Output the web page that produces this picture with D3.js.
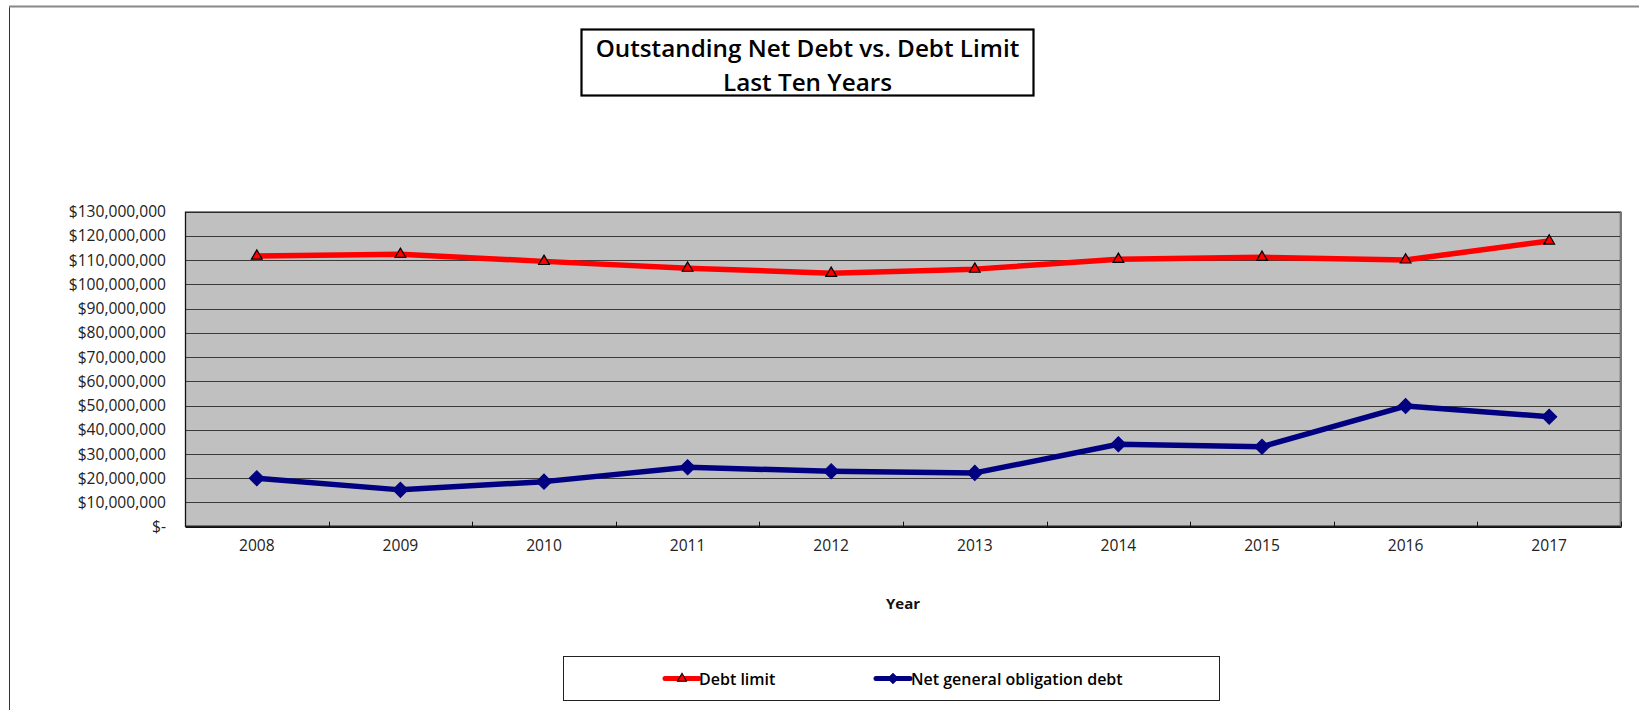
<!DOCTYPE html>
<html>
<head>
<meta charset="utf-8">
<script src="https://cdn.jsdelivr.net/npm/d3@7"></script>
<style>
  html, body { margin: 0; padding: 0; background: #fff; }
  svg { display: block; }
</style>
</head>
<body>
<svg id="chart" width="1639" height="710"></svg>
<script>
// Fiscal years on the horizontal axis
const years = ["2008", "2009", "2010", "2011", "2012", "2013", "2014", "2015", "2016", "2017"];
// Legal debt limit per year (dollars)
const debtLimit = [111700000, 112400000, 109500000, 106700000, 104600000, 106300000, 110400000, 111200000, 110100000, 117900000];
// Net general obligation debt per year (dollars)
const netDebt = [20000000, 15200000, 18600000, 24500000, 22900000, 22200000, 34000000, 33000000, 49800000, 45400000];
// Value axis ticks
const yTicks = [0, 10000000, 20000000, 30000000, 40000000, 50000000, 60000000, 70000000, 80000000, 90000000, 100000000, 110000000, 120000000, 130000000];
const titleLines = ["Outstanding Net Debt vs. Debt Limit", "Last Ten Years"];
const xTitle = "Year";
const seriesNames = ["Debt limit", "Net general obligation debt"];

const svg = d3.select("#chart");
const font = "'Open Sans', 'Noto Sans', sans-serif";

// Outer chart frame (top and left edges)
svg.append("line").attr("x1", 9.5).attr("x2", 9.5).attr("y1", 6).attr("y2", 710)
  .attr("stroke", "#333").attr("stroke-width", 1);
svg.append("line").attr("x1", 9).attr("x2", 1639).attr("y1", 6.5).attr("y2", 6.5)
  .attr("stroke", "#888").attr("stroke-width", 2);

// Plot area
const plot = { left: 185, right: 1621, top: 211.7, bottom: 526.7 };

const x = d3.scaleBand().domain(years).range([plot.left, plot.right]).padding(0);
const y = d3.scaleLinear().domain([0, 130000000]).range([plot.bottom, plot.top]);
const cx = d => x(d) + x.bandwidth() / 2;

svg.append("rect")
  .attr("x", plot.left).attr("y", plot.top)
  .attr("width", plot.right - plot.left).attr("height", plot.bottom - plot.top)
  .attr("fill", "#C0C0C0");

// Horizontal gridlines
svg.append("g").selectAll("line")
  .data(yTicks.filter(v => v > 0 && v < 130000000))
  .join("line")
  .attr("x1", plot.left).attr("x2", plot.right)
  .attr("y1", d => Math.round(y(d)) + 0.5).attr("y2", d => Math.round(y(d)) + 0.5)
  .attr("stroke", "#3a3a3a").attr("stroke-width", 1.2);

// Plot border
svg.append("rect")
  .attr("x", plot.left + 0.5).attr("y", plot.top + 0.5)
  .attr("width", plot.right - plot.left - 1).attr("height", plot.bottom - plot.top - 1)
  .attr("fill", "none").attr("stroke", "#111").attr("stroke-width", 1.3);
svg.append("line")
  .attr("x1", plot.right).attr("x2", plot.right).attr("y1", plot.top).attr("y2", plot.bottom)
  .attr("stroke", "#777").attr("stroke-width", 2);

// Y axis labels
const yFmt = d => d === 0 ? "$-" : "$" + d3.format(",")(d);
const yAxis = d3.axisLeft(y).tickValues(yTicks).tickFormat(yFmt).tickSize(0).tickPadding(19);
const gy = svg.append("g").attr("transform", `translate(${plot.left},0)`).call(yAxis);
gy.select(".domain").remove();
gy.selectAll("text").attr("font-family", font).attr("font-size", "15.6px").attr("fill", "#222");

// X axis: category boundary ticks pointing into the plot, labels centred in each band
const boundaries = years.map(d => x(d)).concat([plot.right]);
svg.append("g").selectAll("line").data(boundaries).join("line")
  .attr("x1", d => Math.round(d) + 0.5).attr("x2", d => Math.round(d) + 0.5)
  .attr("y1", plot.bottom).attr("y2", plot.bottom - 5)
  .attr("stroke", "#111").attr("stroke-width", 1);

const xAxis = d3.axisBottom(x).tickSize(0).tickPadding(13);
const gx = svg.append("g").attr("transform", `translate(0,${plot.bottom})`).call(xAxis);
gx.select(".domain").attr("stroke", "#111").attr("stroke-width", 1.5);
gx.selectAll("text").attr("font-family", font).attr("font-size", "15.6px").attr("fill", "#222");

// Axis title
svg.append("text")
  .attr("x", (plot.left + plot.right) / 2).attr("y", 603)
  .attr("text-anchor", "middle").attr("dominant-baseline", "central")
  .attr("font-family", font).attr("font-weight", 700).attr("font-size", "15px")
  .attr("fill", "#111").text(xTitle);

// Series lines
const line = d3.line().x((d, i) => cx(years[i])).y(d => y(d));
svg.append("path").datum(debtLimit).attr("d", line)
  .attr("fill", "none").attr("stroke", "#FF0000").attr("stroke-width", 5.5)
  .attr("stroke-linejoin", "round");
svg.append("path").datum(netDebt).attr("d", line)
  .attr("fill", "none").attr("stroke", "#000080").attr("stroke-width", 5.5)
  .attr("stroke-linejoin", "round");

// Markers
const tri = d3.symbol().type(d3.symbolTriangle).size(50);
const dia = d3.symbol().type(d3.symbolSquare).size(115);

svg.append("g").selectAll("path").data(debtLimit).join("path")
  .attr("d", tri)
  .attr("transform", (d, i) => `translate(${cx(years[i])},${y(d)})`)
  .attr("fill", "#FF0000").attr("stroke", "#000").attr("stroke-width", 1.2);

svg.append("g").selectAll("path").data(netDebt).join("path")
  .attr("d", dia)
  .attr("transform", (d, i) => `translate(${cx(years[i])},${y(d)}) rotate(45)`)
  .attr("fill", "#000080").attr("stroke", "#000080").attr("stroke-width", 1);

// Title box with a two-line title
const titleBox = { x: 581.5, y: 29.5, w: 452, h: 66 };
svg.append("rect")
  .attr("x", titleBox.x).attr("y", titleBox.y).attr("width", titleBox.w).attr("height", titleBox.h)
  .attr("fill", "#fff").attr("stroke", "#000").attr("stroke-width", 2.2);
const titleTexts = titleLines.map(t => svg.append("text")
  .attr("x", titleBox.x + titleBox.w / 2).attr("y", 57)
  .attr("text-anchor", "middle")
  .attr("font-family", font).attr("font-weight", 600).attr("font-size", "24px")
  .attr("fill", "#000").text(t));
// fit the first line to the box width, then stack the second line below it
{
  const w = titleTexts[0].node().getComputedTextLength();
  const fs = Math.min(24 * 424 / w, 26);
  titleTexts.forEach(t => t.attr("font-size", fs + "px"));
  const h = titleTexts[0].node().getBBox().height;
  titleTexts[1].attr("y", 57 + h + 0.5);
}

// Legend
const legBox = { x: 563.5, y: 656.5, w: 656, h: 44 };
svg.append("rect")
  .attr("x", legBox.x).attr("y", legBox.y).attr("width", legBox.w).attr("height", legBox.h)
  .attr("fill", "#fff").attr("stroke", "#222").attr("stroke-width", 1);
const legY = legBox.y + legBox.h / 2;
const legItems = [
  { name: seriesNames[0], color: "#FF0000", x0: 665, marker: tri, textX: 699, mscale: "scale(0.85)" },
  { name: seriesNames[1], color: "#000080", x0: 876, marker: dia, textX: 911, mscale: "rotate(45) scale(0.7)" }
];
legItems.forEach((it, i) => {
  svg.append("line")
    .attr("x1", it.x0).attr("x2", it.x0 + 34).attr("y1", legY).attr("y2", legY)
    .attr("stroke", it.color).attr("stroke-width", 5).attr("stroke-linecap", "round");
  svg.append("path").attr("d", it.marker)
    .attr("transform", `translate(${it.x0 + 17},${legY}) ${it.mscale}`)
    .attr("fill", it.color).attr("stroke", i === 0 ? "#000" : it.color).attr("stroke-width", 1.2);
  svg.append("text")
    .attr("x", it.textX).attr("y", legY)
    .attr("dominant-baseline", "central")
    .attr("font-family", font).attr("font-weight", 600).attr("font-size", "16px")
    .attr("fill", "#000").text(it.name);
});
</script>
</body>
</html>
